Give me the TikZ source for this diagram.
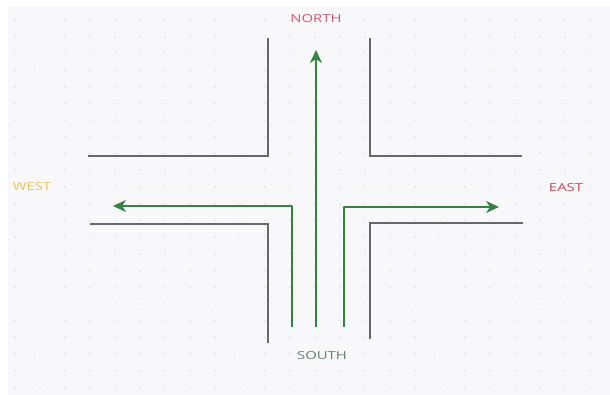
\documentclass[tikz,border=0pt]{standalone}
\usepackage{fontspec}
\setmainfont{Open Sans}
\usetikzlibrary{arrows.meta}
\definecolor{canvas}{HTML}{F8F8FA}
\definecolor{griddot}{HTML}{E4E4E8}
\definecolor{road}{HTML}{686868}
\definecolor{lane}{HTML}{338440}
\definecolor{northred}{HTML}{D9566E}
\definecolor{eastred}{HTML}{CC4452}
\definecolor{westyellow}{HTML}{EAC55A}
\definecolor{southgreen}{HTML}{62806F}
\tikzset{
  edge/.style={draw=road, line width=1.7pt, line join=miter},
  lanepath/.style={draw=lane, line width=1.7pt, line join=round,
    -{Stealth[length=13pt, width=12pt, inset=4pt]}},
  compass/.style={font=\fontsize{11}{13}\selectfont, inner sep=0pt},
}
\newcommand{\widetext}[1]{\scalebox{1.35}[1]{#1}}
\begin{document}
\begin{tikzpicture}[x=1pt, y=-1pt]
  \useasboundingbox (0,0) rectangle (610,395);
  \fill[white] (0,0) rectangle (610,395);
  \fill[canvas] (8,7) rectangle (610,395);
  % faint dot grid
  \foreach \i in {0,...,23} {
    \foreach \j in {0,...,22} {
      \fill[griddot] (15+25*\i, 20+16.7*\j) circle (1.1pt);
    }
  }
  % road edges
  \coordinate (tl1) at (268,38);  \coordinate (tl2) at (268,156); \coordinate (tl3) at (88,156);
  \coordinate (tr1) at (370,38);  \coordinate (tr2) at (370,156); \coordinate (tr3) at (522,156);
  \coordinate (bl1) at (90,224);  \coordinate (bl2) at (268,224); \coordinate (bl3) at (268,343);
  \coordinate (br1) at (523,223); \coordinate (br2) at (370,223); \coordinate (br3) at (370,339);
  \draw[edge] (tl1) -- (tl2) -- (tl3);
  \draw[edge] (tr1) -- (tr2) -- (tr3);
  \draw[edge] (bl1) -- (bl2) -- (bl3);
  \draw[edge] (br1) -- (br2) -- (br3);
  % lanes
  \coordinate (ws) at (292,327); \coordinate (wc) at (292,206); \coordinate (we) at (113,206);
  \coordinate (ns) at (316,327); \coordinate (ne) at (316,50);
  \coordinate (es) at (344,327); \coordinate (ec) at (344,207); \coordinate (ee) at (499,207);
  \draw[lanepath] (ws) -- (wc) -- (we);
  \draw[lanepath] (ns) -- (ne);
  \draw[lanepath] (es) -- (ec) -- (ee);
  % labels
  \node[compass, text=northred] (north) at (316,19) {\widetext{NORTH}};
  \node[compass, text=westyellow] (west) at (32,187) {\widetext{WEST}};
  \node[compass, text=eastred] (east) at (566,188) {\widetext{EAST}};
  \node[compass, text=southgreen] (south) at (322,356) {\widetext{SOUTH}};
\end{tikzpicture}
\end{document}
